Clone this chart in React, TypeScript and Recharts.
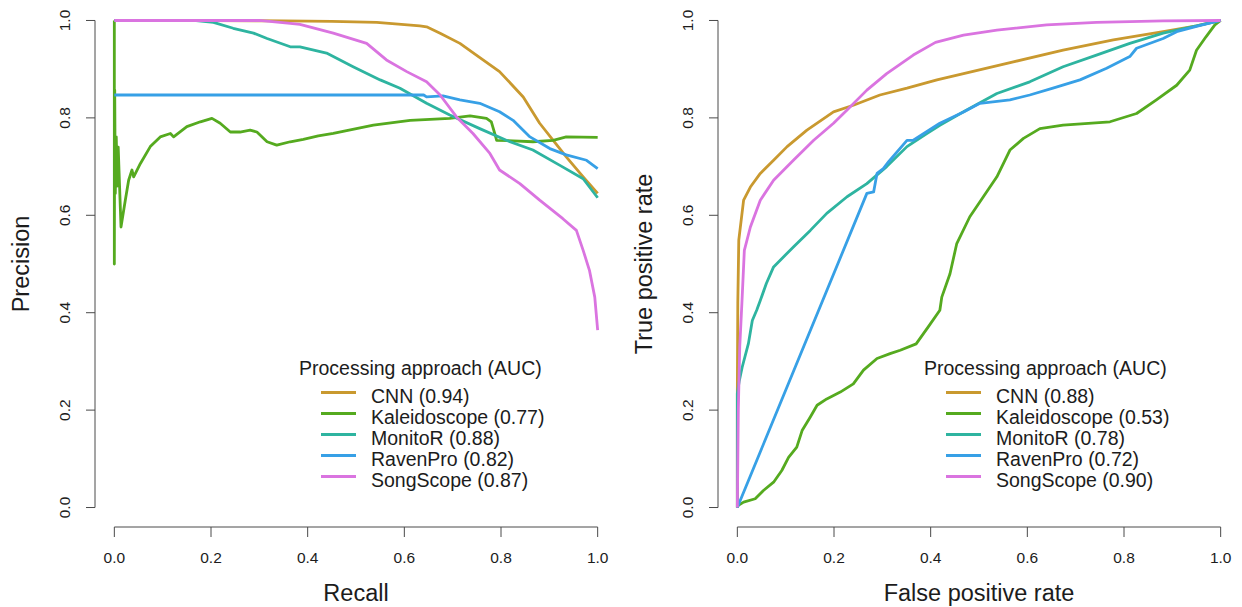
import React from 'react';
import { LineChart, Line, XAxis, YAxis, ReferenceLine, Legend } from 'recharts';

type Pt = [number, number];

const METHODS = ['CNN', 'Kaleidoscope', 'MonitoR', 'RavenPro', 'SongScope'];
const COLORS = ['#C9992F', '#55AA1F', '#2EB4A0', '#37A0E6', '#DA74E0'];
const PR_AUC = ['0.94', '0.77', '0.88', '0.82', '0.87'];
const ROC_AUC = ['0.88', '0.53', '0.78', '0.72', '0.90'];
const TICKS = [0, 0.2, 0.4, 0.6, 0.8, 1];

// precision-recall curves: [recall, precision]
const PR_CNN: Pt[] = [[0, 1], [0.2, 1], [0.35, 0.999], [0.45, 0.998], [0.543, 0.996], [0.632, 0.989], [0.646, 0.987], [0.674, 0.974], [0.715, 0.953], [0.749, 0.929], [0.797, 0.895], [0.846, 0.843], [0.88, 0.789], [0.908, 0.754], [0.935, 0.72], [0.97, 0.679], [1, 0.645]];
const PR_KAL: Pt[] = [[0, 1], [0, 0.5], [0.0008, 0.857], [0.002, 0.645], [0.004, 0.761], [0.006, 0.66], [0.008, 0.74], [0.0138, 0.576], [0.0227, 0.631], [0.0296, 0.672], [0.0365, 0.693], [0.04, 0.679], [0.0537, 0.706], [0.0744, 0.741], [0.095, 0.761], [0.116, 0.768], [0.1226, 0.761], [0.15, 0.782], [0.178, 0.792], [0.202, 0.799], [0.219, 0.789], [0.24, 0.771], [0.26, 0.771], [0.281, 0.775], [0.295, 0.771], [0.316, 0.751], [0.336, 0.744], [0.364, 0.751], [0.391, 0.756], [0.422, 0.763], [0.453, 0.768], [0.536, 0.785], [0.612, 0.795], [0.694, 0.799], [0.736, 0.804], [0.77, 0.799], [0.78, 0.792], [0.787, 0.768], [0.791, 0.754], [0.825, 0.753], [0.866, 0.751], [0.908, 0.754], [0.935, 0.761], [1, 0.76]];
const PR_MON: Pt[] = [[0, 1], [0.164, 1], [0.205, 0.996], [0.246, 0.984], [0.288, 0.974], [0.316, 0.963], [0.364, 0.946], [0.384, 0.946], [0.439, 0.933], [0.494, 0.905], [0.55, 0.878], [0.591, 0.861], [0.646, 0.83], [0.694, 0.806], [0.756, 0.778], [0.811, 0.754], [0.866, 0.734], [0.921, 0.703], [0.97, 0.675], [1, 0.636]];
const PR_RAV: Pt[] = [[0, 0.847], [0.64, 0.847], [0.646, 0.843], [0.68, 0.845], [0.715, 0.837], [0.756, 0.83], [0.797, 0.8125], [0.825, 0.795], [0.86, 0.761], [0.901, 0.737], [0.935, 0.724], [0.977, 0.713], [1, 0.696]];
const PR_SONG: Pt[] = [[0, 1], [0.3, 1], [0.364, 0.994], [0.384, 0.992], [0.453, 0.974], [0.522, 0.953], [0.563, 0.919], [0.605, 0.895], [0.646, 0.874], [0.674, 0.847], [0.708, 0.802], [0.742, 0.768], [0.777, 0.727], [0.797, 0.693], [0.839, 0.665], [0.88, 0.631], [0.928, 0.593], [0.956, 0.569], [0.97, 0.528], [0.983, 0.487], [0.994, 0.432], [1, 0.364]];

// ROC curves: [false positive rate, true positive rate]
const ROC_CNN: Pt[] = [[0, 0], [0, 0.234], [0.001, 0.42], [0.003, 0.549], [0.013, 0.631], [0.027, 0.658], [0.0475, 0.686], [0.075, 0.713], [0.103, 0.741], [0.144, 0.775], [0.199, 0.8125], [0.24, 0.826], [0.295, 0.847], [0.351, 0.861], [0.413, 0.878], [0.468, 0.891], [0.571, 0.915], [0.674, 0.939], [0.778, 0.96], [0.881, 0.977], [0.95, 0.989], [1, 1]];
const ROC_KAL: Pt[] = [[0, 0], [0.0014, 0.004], [0.013, 0.011], [0.037, 0.018], [0.054, 0.035], [0.075, 0.052], [0.092, 0.076], [0.106, 0.103], [0.123, 0.124], [0.134, 0.158], [0.151, 0.186], [0.165, 0.21], [0.185, 0.223], [0.213, 0.237], [0.24, 0.254], [0.261, 0.282], [0.289, 0.306], [0.316, 0.316], [0.337, 0.323], [0.37, 0.336], [0.395, 0.371], [0.419, 0.405], [0.423, 0.432], [0.44, 0.48], [0.454, 0.542], [0.481, 0.597], [0.509, 0.638], [0.537, 0.679], [0.564, 0.734], [0.592, 0.758], [0.626, 0.778], [0.674, 0.785], [0.771, 0.792], [0.826, 0.809], [0.867, 0.837], [0.909, 0.867], [0.936, 0.898], [0.95, 0.939], [0.97, 0.967], [0.988, 0.991], [1, 1]];
const ROC_MON: Pt[] = [[0, 0], [0, 0.234], [0.004, 0.26], [0.01, 0.288], [0.023, 0.337], [0.031, 0.384], [0.04, 0.405], [0.0475, 0.425], [0.06, 0.46], [0.075, 0.494], [0.116, 0.535], [0.151, 0.569], [0.185, 0.604], [0.227, 0.638], [0.268, 0.665], [0.309, 0.7], [0.351, 0.741], [0.392, 0.768], [0.419, 0.785], [0.468, 0.8125], [0.537, 0.85], [0.605, 0.874], [0.674, 0.905], [0.743, 0.929], [0.812, 0.953], [0.881, 0.974], [0.95, 0.989], [1, 1]];
const ROC_RAV: Pt[] = [[0, 0], [0.268, 0.645], [0.282, 0.648], [0.289, 0.686], [0.302, 0.696], [0.313, 0.71], [0.351, 0.754], [0.364, 0.754], [0.419, 0.789], [0.468, 0.812], [0.502, 0.83], [0.564, 0.837], [0.605, 0.847], [0.653, 0.861], [0.709, 0.878], [0.764, 0.902], [0.812, 0.926], [0.826, 0.943], [0.881, 0.963], [0.909, 0.977], [0.95, 0.988], [1, 1]];
const ROC_SONG: Pt[] = [[0, 0], [0.002, 0.2], [0.005, 0.33], [0.0097, 0.425], [0.0145, 0.528], [0.027, 0.576], [0.0475, 0.631], [0.075, 0.672], [0.116, 0.713], [0.158, 0.754], [0.199, 0.789], [0.227, 0.816], [0.268, 0.857], [0.309, 0.891], [0.364, 0.929], [0.41, 0.955], [0.468, 0.97], [0.537, 0.98], [0.64, 0.991], [0.743, 0.996], [0.881, 0.999], [1, 1]];

const PR_CURVES = [PR_CNN, PR_KAL, PR_MON, PR_RAV, PR_SONG];
const ROC_CURVES = [ROC_CNN, ROC_KAL, ROC_MON, ROC_RAV, ROC_SONG];

const FONT = '"Liberation Sans", Arial, Helvetica, sans-serif';
const INK = '#1c1c1c';
const AXIS = '#4a4a4a';
// R-style padding: axes sit 4% outside the 0..1 range
const DOMAIN: [number, number] = [-0.04, 1.04];

const toRows = (pts: Pt[]) => pts.map(([x, y]) => ({ x, y }));

function XTick({ x, y, payload }: any) {
  return (
    <text x={x} y={y} textAnchor="middle" fontSize={15.5} fontFamily={FONT} fill={INK}>
      {Number(payload.value).toFixed(1)}
    </text>
  );
}

function YTick({ x, y, payload }: any) {
  return (
    <text x={x} y={y} transform={`rotate(-90 ${x} ${y})`} textAnchor="middle" fontSize={15.5} fontFamily={FONT} fill={INK}>
      {Number(payload.value).toFixed(1)}
    </text>
  );
}

function XTitle({ viewBox, text }: any) {
  const { x, y, width } = viewBox;
  return (
    <text x={x + width / 2} y={y + 74} textAnchor="middle" fontSize={23.5} fontFamily={FONT} fill={INK}>
      {text}
    </text>
  );
}

function YTitle({ viewBox, text }: any) {
  const { x, y, width, height } = viewBox;
  const tx = x + width - 66;
  const ty = y + height / 2;
  return (
    <text x={tx} y={ty} transform={`rotate(-90 ${tx} ${ty})`} textAnchor="middle" fontSize={23.5} fontFamily={FONT} fill={INK}>
      {text}
    </text>
  );
}

function LegendBox({ payload }: any) {
  return (
    <div style={{ position: 'relative', width: 290, height: 140, fontFamily: FONT, color: INK, fontSize: 19.5, lineHeight: '19.5px' }}>
      <div style={{ position: 'absolute', left: 0, top: 3.5, whiteSpace: 'nowrap' }}>Processing approach (AUC)</div>
      {(payload || []).map((p: any, i: number) => (
        <React.Fragment key={p.value}>
          <div style={{ position: 'absolute', left: 22, top: 36.3 + i * 21, width: 35, height: 3, background: p.color }} />
          <div style={{ position: 'absolute', left: 72, top: 31.8 + i * 21, whiteSpace: 'nowrap' }}>{p.value}</div>
        </React.Fragment>
      ))}
    </div>
  );
}

function Panel({ curves, aucs, xTitle, yTitle, axisWidth, width, legendLeft }: any) {
  return (
    <LineChart width={width} height={607} margin={{ top: 1, right: 2, bottom: 0, left: 0 }}>
      <XAxis
        type="number"
        dataKey="x"
        domain={DOMAIN}
        ticks={TICKS}
        interval={0}
        height={80}
        axisLine={false}
        tickSize={10}
        tickMargin={26}
        tickLine={{ stroke: AXIS, strokeWidth: 1 }}
        tick={<XTick />}
        label={<XTitle text={xTitle} />}
      />
      <YAxis
        type="number"
        domain={DOMAIN}
        ticks={TICKS}
        interval={0}
        width={axisWidth}
        axisLine={false}
        tickSize={9}
        tickMargin={16}
        tickLine={{ stroke: AXIS, strokeWidth: 1 }}
        tick={<YTick />}
        label={<YTitle text={yTitle} />}
      />
      <ReferenceLine segment={[{ x: 0, y: -0.04 }, { x: 1, y: -0.04 }]} stroke={AXIS} strokeWidth={1} ifOverflow="visible" />
      <ReferenceLine segment={[{ x: -0.04, y: 0 }, { x: -0.04, y: 1 }]} stroke={AXIS} strokeWidth={1} ifOverflow="visible" />
      {curves.map((pts: Pt[], i: number) => (
        <Line
          key={METHODS[i]}
          data={toRows(pts)}
          dataKey="y"
          name={`${METHODS[i]} (${aucs[i]})`}
          type="linear"
          stroke={COLORS[i]}
          strokeWidth={2.8}
          strokeLinejoin="round"
          dot={false}
          activeDot={false}
          isAnimationActive={false}
        />
      ))}
      <Legend
        layout="horizontal"
        verticalAlign="middle"
        align="center"
        content={<LegendBox />}
        wrapperStyle={{ left: legendLeft, top: 355, width: 290, height: 140 }}
      />
    </LineChart>
  );
}

export default function App() {
  return (
    <div style={{ position: 'absolute', left: 0, top: 0, width: 1242, height: 607, background: '#fff' }}>
      <div style={{ position: 'absolute', left: 0, top: 0 }}>
        <Panel curves={PR_CURVES} aucs={PR_AUC} xTitle="Recall" yTitle="Precision" axisWidth={95} width={619} legendLeft={299} />
      </div>
      <div style={{ position: 'absolute', left: 620, top: 0 }}>
        <Panel curves={ROC_CURVES} aucs={ROC_AUC} xTitle="False positive rate" yTitle="True positive rate" axisWidth={98} width={622} legendLeft={304} />
      </div>
    </div>
  );
}
